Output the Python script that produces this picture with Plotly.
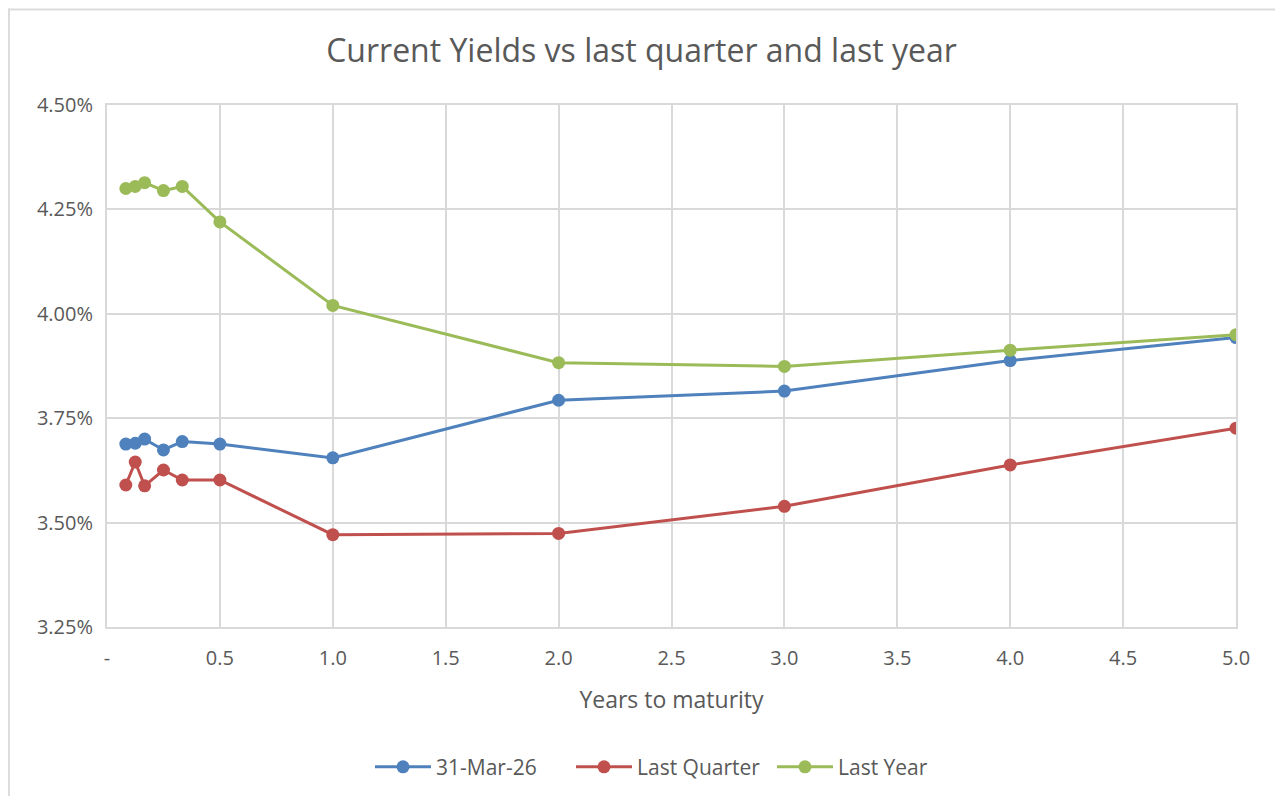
import plotly.graph_objects as go

maturity = [1/12, 1.5/12, 2/12, 3/12, 4/12, 0.5, 1.0, 2.0, 3.0, 4.0, 5.0]
current = [3.688, 3.690, 3.700, 3.674, 3.694, 3.688, 3.655, 3.793, 3.815, 3.888, 3.943]
last_quarter = [3.590, 3.645, 3.588, 3.626, 3.602, 3.602, 3.471, 3.474, 3.539, 3.638, 3.726]
last_year = [4.300, 4.305, 4.314, 4.295, 4.305, 4.220, 4.020, 3.883, 3.874, 3.913, 3.950]

series_names = ["31-Mar-26", "Last Quarter", "Last Year"]
colors = ["#4f81bd", "#c0504d", "#9bbb59"]

x_tickvals = [0, 0.5, 1.0, 1.5, 2.0, 2.5, 3.0, 3.5, 4.0, 4.5, 5.0]
x_ticktext = ["-", "0.5", "1.0", "1.5", "2.0", "2.5", "3.0", "3.5", "4.0", "4.5", "5.0"]
y_tickvals = [3.25, 3.50, 3.75, 4.00, 4.25, 4.50]
y_ticktext = ["3.25%", "3.50%", "3.75%", "4.00%", "4.25%", "4.50%"]

fig = go.Figure()
for name, vals, col in zip(series_names, [current, last_quarter, last_year], colors):
    fig.add_trace(go.Scatter(
        x=maturity, y=vals, name=name, mode="lines+markers",
        line=dict(color=col, width=3),
        marker=dict(color=col, size=13),
    ))

# page has an 8px body margin; figure coordinates = page - 8
W, H = 1267, 792
ml, mr, mt, mb = 99, 39, 97, 170
pw, ph = W - ml - mr, H - mt - mb

def px_x(p):
    return (p - ml) / pw

def px_y(p):
    return (H - mb - p) / ph

grid = "#d9d9d9"
txt = "#595959"
fam = "Open Sans, Lato, sans-serif"

fig.update_layout(
    width=W, height=H,
    margin=dict(l=ml, r=mr, t=mt, b=mb),
    paper_bgcolor="white", plot_bgcolor="white",
    font=dict(family=fam, color=txt, size=20),
    title=dict(text="Current Yields vs last quarter and last year",
               x=0.5, xanchor="center", y=1 - 43 / H, yanchor="middle",
               font=dict(size=32, color=txt, family=fam)),
    xaxis=dict(range=[0, 5], tickvals=x_tickvals, ticktext=x_ticktext,
               showgrid=True, gridcolor=grid, gridwidth=2,
               zeroline=False, showline=True, linecolor=grid, linewidth=2, mirror=True,
               ticks="", ticklabelstandoff=12,
               title=dict(text="Years to maturity", font=dict(size=23, color=txt), standoff=22),
               tickfont=dict(size=20, color=txt)),
    yaxis=dict(range=[3.25, 4.50], tickvals=y_tickvals, ticktext=y_ticktext,
               showgrid=True, gridcolor=grid, gridwidth=2,
               zeroline=False, showline=True, linecolor=grid, linewidth=2, mirror=True,
               ticks="",
               tickfont=dict(size=20, color=txt), ticklabelstandoff=8),
    legend=dict(orientation="h", x=px_x(362), xanchor="left", y=px_y(763), yanchor="middle",
                font=dict(size=21, color=txt), itemwidth=56,
                entrywidth=130, entrywidthmode="pixels"),
    showlegend=True,
)

fig.add_shape(type="line", xref="paper", yref="paper",
              x0=px_x(0), x1=px_x(W), y0=px_y(1), y1=px_y(1),
              line=dict(color="#dcdcdc", width=2), layer="below")
fig.add_shape(type="line", xref="paper", yref="paper",
              x0=px_x(1), x1=px_x(1), y0=px_y(0), y1=px_y(H),
              line=dict(color="#dcdcdc", width=2), layer="below")

fig.write_html("out.html")
